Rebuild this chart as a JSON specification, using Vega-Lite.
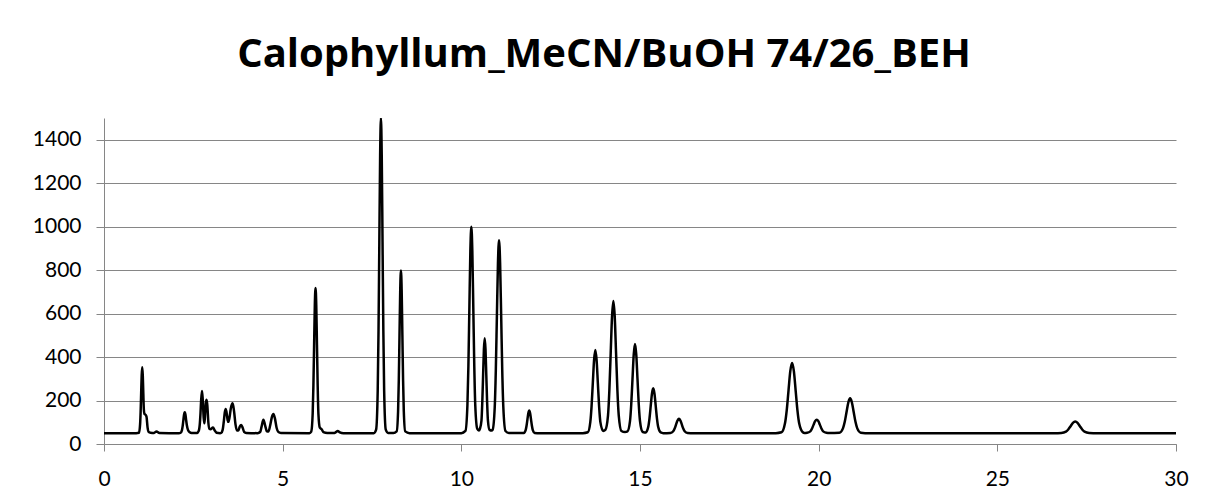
{
  "$schema": "https://vega.github.io/schema/vega-lite/v6.json",
  "width": 1072,
  "height": 326,
  "autosize": {"type": "none"},
  "padding": {"left": 104, "top": 118, "right": 32, "bottom": 59},
  "background": "white",
  "title": {"text": "Calophyllum_MeCN/BuOH  74/26_BEH", "font": "Open Sans", "fontSize": 40, "fontWeight": "bold", "color": "black", "anchor": "middle", "frame": "group", "dx": -36, "baseline": "alphabetic", "offset": 11},
  "data": {"values": [
    {"t": 0, "v": 50}, {"t": 0.9, "v": 50}, {"t": 0.98, "v": 52}, {"t": 1.01, "v": 90}, {"t": 1.025, "v": 148}, {"t": 1.04, "v": 234}, {"t": 1.055, "v": 317}, {"t": 1.07, "v": 353}, {"t": 1.085, "v": 317}, {"t": 1.1, "v": 234}, {"t": 1.115, "v": 160}, {"t": 1.13, "v": 140}, {"t": 1.16, "v": 135}, {"t": 1.19, "v": 125}, {"t": 1.22, "v": 75}, {"t": 1.25, "v": 55}, {"t": 1.3, "v": 52}, {"t": 1.4, "v": 51}, {"t": 1.47, "v": 58}, {"t": 1.55, "v": 51},
    {"t": 2.1, "v": 50}, {"t": 2.14, "v": 51}, {"t": 2.18, "v": 63}, {"t": 2.2, "v": 81}, {"t": 2.22, "v": 108}, {"t": 2.24, "v": 135}, {"t": 2.26, "v": 146}, {"t": 2.28, "v": 135}, {"t": 2.3, "v": 108}, {"t": 2.32, "v": 85}, {"t": 2.35, "v": 65}, {"t": 2.4, "v": 54}, {"t": 2.45, "v": 51},
    {"t": 2.6, "v": 51}, {"t": 2.65, "v": 60}, {"t": 2.68, "v": 90}, {"t": 2.7, "v": 140}, {"t": 2.72, "v": 205}, {"t": 2.743, "v": 244}, {"t": 2.765, "v": 200}, {"t": 2.79, "v": 120}, {"t": 2.81, "v": 95}, {"t": 2.83, "v": 140}, {"t": 2.85, "v": 190}, {"t": 2.873, "v": 204}, {"t": 2.895, "v": 170}, {"t": 2.92, "v": 100}, {"t": 2.95, "v": 70}, {"t": 2.98, "v": 68}, {"t": 3.05, "v": 76}, {"t": 3.1, "v": 62}, {"t": 3.15, "v": 52}, {"t": 3.25, "v": 50},
    {"t": 3.28, "v": 51}, {"t": 3.32, "v": 65}, {"t": 3.35, "v": 100}, {"t": 3.38, "v": 145}, {"t": 3.405, "v": 161}, {"t": 3.43, "v": 145}, {"t": 3.46, "v": 110}, {"t": 3.48, "v": 102}, {"t": 3.51, "v": 120}, {"t": 3.55, "v": 165}, {"t": 3.6, "v": 187}, {"t": 3.64, "v": 150}, {"t": 3.68, "v": 90}, {"t": 3.72, "v": 62}, {"t": 3.76, "v": 62}, {"t": 3.8, "v": 80}, {"t": 3.84, "v": 87}, {"t": 3.88, "v": 75}, {"t": 3.92, "v": 56}, {"t": 3.98, "v": 51},
    {"t": 4.3, "v": 50}, {"t": 4.37, "v": 55}, {"t": 4.41, "v": 80}, {"t": 4.46, "v": 112}, {"t": 4.51, "v": 85}, {"t": 4.56, "v": 58}, {"t": 4.6, "v": 57}, {"t": 4.65, "v": 85}, {"t": 4.7, "v": 125}, {"t": 4.74, "v": 138}, {"t": 4.78, "v": 120}, {"t": 4.83, "v": 75}, {"t": 4.88, "v": 55}, {"t": 4.95, "v": 51},
    {"t": 5.75, "v": 50}, {"t": 5.8, "v": 57}, {"t": 5.84, "v": 140}, {"t": 5.86, "v": 267}, {"t": 5.88, "v": 455}, {"t": 5.9, "v": 640}, {"t": 5.92, "v": 718}, {"t": 5.94, "v": 640}, {"t": 5.96, "v": 455}, {"t": 5.98, "v": 267}, {"t": 6.0, "v": 140}, {"t": 6.04, "v": 75}, {"t": 6.09, "v": 68}, {"t": 6.14, "v": 55}, {"t": 6.25, "v": 51}, {"t": 6.45, "v": 51}, {"t": 6.5, "v": 56}, {"t": 6.54, "v": 60}, {"t": 6.6, "v": 54}, {"t": 6.7, "v": 50},
    {"t": 7.55, "v": 50}, {"t": 7.615, "v": 66}, {"t": 7.66, "v": 246}, {"t": 7.6825, "v": 521}, {"t": 7.705, "v": 929}, {"t": 7.7275, "v": 1330}, {"t": 7.75, "v": 1500}, {"t": 7.7725, "v": 1330}, {"t": 7.795, "v": 929}, {"t": 7.8175, "v": 521}, {"t": 7.84, "v": 246}, {"t": 7.885, "v": 66}, {"t": 7.95, "v": 51},
    {"t": 8.1, "v": 51}, {"t": 8.19, "v": 58}, {"t": 8.23, "v": 151}, {"t": 8.25, "v": 293}, {"t": 8.27, "v": 504}, {"t": 8.29, "v": 710}, {"t": 8.31, "v": 798}, {"t": 8.33, "v": 710}, {"t": 8.35, "v": 504}, {"t": 8.37, "v": 293}, {"t": 8.39, "v": 151}, {"t": 8.43, "v": 58}, {"t": 8.55, "v": 50},
    {"t": 10.0, "v": 50}, {"t": 10.115, "v": 60}, {"t": 10.17, "v": 178}, {"t": 10.1975, "v": 358}, {"t": 10.225, "v": 626}, {"t": 10.2525, "v": 888}, {"t": 10.28, "v": 1000}, {"t": 10.3075, "v": 888}, {"t": 10.335, "v": 626}, {"t": 10.3625, "v": 358}, {"t": 10.39, "v": 178}, {"t": 10.445, "v": 70}, {"t": 10.49, "v": 62},
    {"t": 10.52, "v": 70}, {"t": 10.564, "v": 109}, {"t": 10.5865, "v": 192}, {"t": 10.609, "v": 315}, {"t": 10.6315, "v": 436}, {"t": 10.654, "v": 487}, {"t": 10.6765, "v": 436}, {"t": 10.699, "v": 315}, {"t": 10.7215, "v": 192}, {"t": 10.744, "v": 109}, {"t": 10.79, "v": 65}, {"t": 10.85, "v": 62},
    {"t": 10.875, "v": 65}, {"t": 10.935, "v": 170}, {"t": 10.965, "v": 338}, {"t": 10.995, "v": 588}, {"t": 11.025, "v": 833}, {"t": 11.055, "v": 937}, {"t": 11.085, "v": 833}, {"t": 11.115, "v": 588}, {"t": 11.145, "v": 338}, {"t": 11.175, "v": 170}, {"t": 11.235, "v": 60}, {"t": 11.33, "v": 51},
    {"t": 11.75, "v": 51}, {"t": 11.8, "v": 64}, {"t": 11.825, "v": 84}, {"t": 11.85, "v": 113}, {"t": 11.875, "v": 142}, {"t": 11.9, "v": 154}, {"t": 11.925, "v": 142}, {"t": 11.95, "v": 113}, {"t": 11.975, "v": 84}, {"t": 12.0, "v": 64}, {"t": 12.05, "v": 51}, {"t": 12.2, "v": 50},
    {"t": 13.4, "v": 50}, {"t": 13.54, "v": 54}, {"t": 13.61, "v": 102}, {"t": 13.645, "v": 174}, {"t": 13.68, "v": 282}, {"t": 13.715, "v": 387}, {"t": 13.75, "v": 432}, {"t": 13.785, "v": 387}, {"t": 13.82, "v": 282}, {"t": 13.855, "v": 174}, {"t": 13.89, "v": 102}, {"t": 13.97, "v": 60},
    {"t": 14.03, "v": 65}, {"t": 14.105, "v": 132}, {"t": 14.1425, "v": 247}, {"t": 14.18, "v": 419}, {"t": 14.2175, "v": 587}, {"t": 14.255, "v": 658}, {"t": 14.2925, "v": 587}, {"t": 14.33, "v": 419}, {"t": 14.3675, "v": 247}, {"t": 14.405, "v": 132}, {"t": 14.48, "v": 60}, {"t": 14.58, "v": 55},
    {"t": 14.65, "v": 58}, {"t": 14.72, "v": 105}, {"t": 14.755, "v": 183}, {"t": 14.79, "v": 299}, {"t": 14.825, "v": 412}, {"t": 14.86, "v": 460}, {"t": 14.895, "v": 412}, {"t": 14.93, "v": 299}, {"t": 14.965, "v": 183}, {"t": 15.0, "v": 105}, {"t": 15.07, "v": 56}, {"t": 15.1, "v": 54},
    {"t": 15.16, "v": 53}, {"t": 15.23, "v": 78}, {"t": 15.265, "v": 117}, {"t": 15.3, "v": 175}, {"t": 15.335, "v": 232}, {"t": 15.37, "v": 256}, {"t": 15.405, "v": 232}, {"t": 15.44, "v": 175}, {"t": 15.475, "v": 117}, {"t": 15.51, "v": 78}, {"t": 15.58, "v": 53}, {"t": 15.65, "v": 50},
    {"t": 15.85, "v": 51}, {"t": 15.93, "v": 59}, {"t": 15.97, "v": 71}, {"t": 16.01, "v": 90}, {"t": 16.05, "v": 108}, {"t": 16.09, "v": 116}, {"t": 16.13, "v": 108}, {"t": 16.17, "v": 90}, {"t": 16.21, "v": 71}, {"t": 16.25, "v": 59}, {"t": 16.33, "v": 51}, {"t": 16.5, "v": 50},
    {"t": 18.8, "v": 50}, {"t": 18.96, "v": 54}, {"t": 19.056, "v": 94}, {"t": 19.106, "v": 155}, {"t": 19.156, "v": 246}, {"t": 19.206, "v": 335}, {"t": 19.256, "v": 373}, {"t": 19.306, "v": 335}, {"t": 19.356, "v": 246}, {"t": 19.406, "v": 155}, {"t": 19.456, "v": 94}, {"t": 19.556, "v": 54}, {"t": 19.6, "v": 51},
    {"t": 19.676, "v": 52}, {"t": 19.766, "v": 58}, {"t": 19.811, "v": 70}, {"t": 19.856, "v": 88}, {"t": 19.901, "v": 105}, {"t": 19.946, "v": 112}, {"t": 19.991, "v": 105}, {"t": 20.036, "v": 88}, {"t": 20.081, "v": 70}, {"t": 20.126, "v": 58}, {"t": 20.216, "v": 52}, {"t": 20.3, "v": 51},
    {"t": 20.58, "v": 52}, {"t": 20.68, "v": 72}, {"t": 20.73, "v": 102}, {"t": 20.78, "v": 147}, {"t": 20.83, "v": 191}, {"t": 20.88, "v": 210}, {"t": 20.93, "v": 191}, {"t": 20.98, "v": 147}, {"t": 21.03, "v": 102}, {"t": 21.08, "v": 72}, {"t": 21.18, "v": 52}, {"t": 21.3, "v": 50},
    {"t": 26.6, "v": 50}, {"t": 26.79, "v": 51}, {"t": 26.92, "v": 57}, {"t": 26.985, "v": 67}, {"t": 27.05, "v": 82}, {"t": 27.115, "v": 97}, {"t": 27.18, "v": 103}, {"t": 27.245, "v": 97}, {"t": 27.31, "v": 82}, {"t": 27.375, "v": 67}, {"t": 27.44, "v": 57}, {"t": 27.57, "v": 51}, {"t": 27.8, "v": 50}, {"t": 30, "v": 50}
  ]},
  "mark": {"type": "line", "color": "black", "strokeWidth": 2.5, "interpolate": "monotone", "clip": true},
  "encoding": {
    "x": {"field": "t", "type": "quantitative", "scale": {"domain": [0, 30], "nice": false},
      "axis": {"title": null, "values": [0, 5, 10, 15, 20, 25, 30], "format": "d", "grid": false, "domainColor": "#868686", "tickColor": "#868686", "tickSize": 7, "labelFont": "Lato", "labelFontSize": 21, "labelColor": "black", "labelPadding": 17, "labelFlush": false}},
    "y": {"field": "v", "type": "quantitative", "scale": {"domain": [0, 1500], "nice": false},
      "axis": {"title": null, "values": [0, 200, 400, 600, 800, 1000, 1200, 1400], "format": "d", "grid": true, "gridColor": "#868686", "gridOpacity": 1, "domainColor": "#868686", "tickColor": "#868686", "tickSize": 8, "labelFont": "Lato", "labelFontSize": 21, "labelColor": "black", "labelPadding": 15}}
  },
  "config": {"view": {"stroke": null}}
}
